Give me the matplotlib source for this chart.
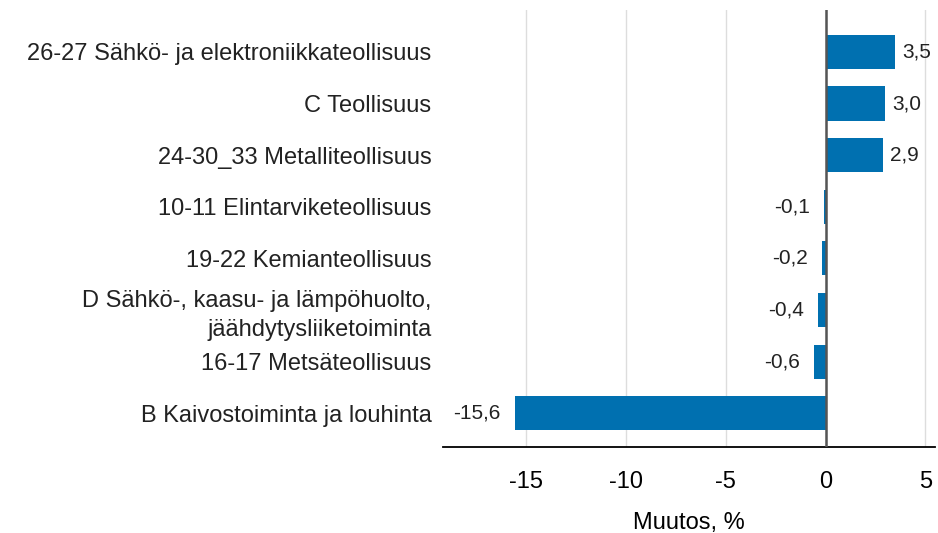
import matplotlib.pyplot as plt

categories = [
    "26-27 Sähkö- ja elektroniikkateollisuus",
    "C Teollisuus",
    "24-30_33 Metalliteollisuus",
    "10-11 Elintarviketeollisuus",
    "19-22 Kemianteollisuus",
    "D Sähkö-, kaasu- ja lämpöhuolto,\njäähdytysliiketoiminta",
    "16-17 Metsäteollisuus",
    "B Kaivostoiminta ja louhinta",
]
values = [3.5, 3.0, 2.9, -0.1, -0.2, -0.4, -0.6, -15.6]
xticks = [-15, -10, -5, 0, 5]

plt.rcParams['font.family'] = ['Liberation Sans', 'DejaVu Sans']

fig = plt.figure(figsize=(9.38, 5.33), dpi=100)
ax = fig.add_axes([0.472, 0.161, 0.525, 0.82])

pos = list(range(len(categories)))
ax.barh(pos, values, height=0.66, color='#0070b0', zorder=3)

for p, v in zip(pos, values):
    txt = f"{v:.1f}".replace('.', ',')
    if v >= 0:
        ax.annotate(txt, (v, p), xytext=(5, 0), textcoords='offset points',
                    ha='left', va='center', fontsize=15, color='#222222')
    else:
        ax.annotate(txt, (v, p), xytext=(-10, 0), textcoords='offset points',
                    ha='right', va='center', fontsize=15, color='#222222')

ax.set_xlim(-19.2, 5.5)
ax.set_ylim(7.66, -0.81)
ax.set_xticks(xticks)
ax.set_xticklabels([str(t) for t in xticks], fontsize=17)
ax.set_yticks(pos)
ax.set_yticklabels(categories, fontsize=17, color='#222222', linespacing=1.4)
ax.tick_params(axis='both', length=0)
ax.tick_params(axis='x', pad=17)
ax.tick_params(axis='y', pad=8)

ax.grid(axis='x', color='#dddddd', linewidth=1, zorder=0)
ax.axvline(0, color='#555555', linewidth=1.8, zorder=4)

for s in ['top', 'right', 'left']:
    ax.spines[s].set_visible(False)
ax.spines['bottom'].set_color('black')
ax.spines['bottom'].set_linewidth(1.3)

ax.set_xlabel("Muutos, %", fontsize=17, labelpad=14)

fig.savefig('out.png', dpi=100)
